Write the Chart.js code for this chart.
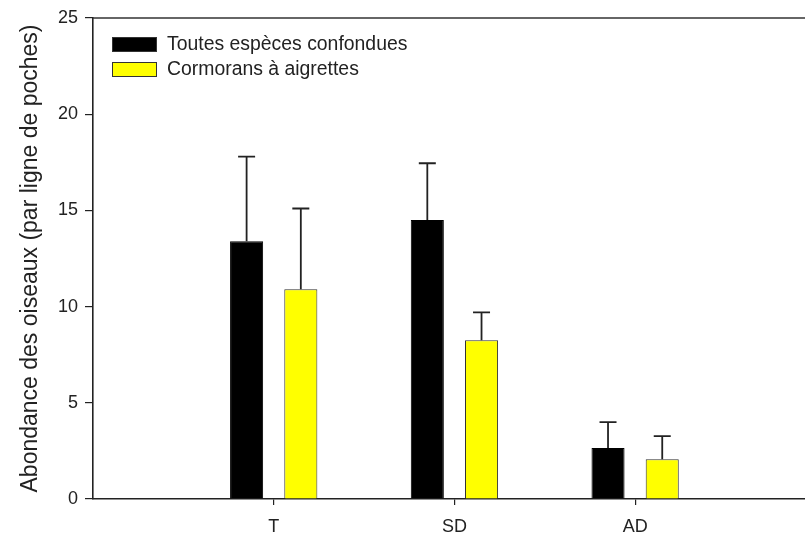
<!DOCTYPE html>
<html>
<head>
<meta charset="utf-8">
<script src="https://cdn.jsdelivr.net/npm/chart.js@4"></script>
<style>
  html, body { margin: 0; padding: 0; background: #fff; }
  #wrap { width: 805px; height: 535px; position: relative; }
</style>
</head>
<body>
<div id="wrap"><canvas id="chart"></canvas></div>
<script>
// Site categories and values
const categories = ['T', 'SD', 'AD'];
const allSpecies = [13.4, 14.5, 2.65];
const allSpeciesErr = [17.8, 17.45, 4.0];   // upper end of error bar
const cormorants = [10.9, 8.25, 2.07];
const cormorantsErr = [15.1, 9.7, 3.27];
const yTicks = [0, 5, 10, 15, 20, 25];

const INK = '#222';
const FONT = "'Liberation Sans', Arial, sans-serif";

// upper error whiskers with a centered cap
const errorBarPlugin = {
  id: 'errorBars',
  afterDatasetsDraw(chart) {
    const { ctx, scales: { y } } = chart;
    chart.data.datasets.forEach((ds, di) => {
      const meta = chart.getDatasetMeta(di);
      meta.data.forEach((bar, i) => {
        const top = y.getPixelForValue(ds.errTop[i]);
        ctx.save();
        ctx.strokeStyle = INK;
        ctx.lineWidth = 1.8;
        ctx.beginPath();
        ctx.moveTo(bar.x, bar.y);
        ctx.lineTo(bar.x, top);
        ctx.moveTo(bar.x - 8.5, top);
        ctx.lineTo(bar.x + 8.5, top);
        ctx.stroke();
        ctx.restore();
      });
    });
  }
};

// top frame line + legend inside the plot area
const framePlugin = {
  id: 'frame',
  afterDraw(chart) {
    const { ctx, chartArea: a } = chart;
    ctx.save();
    ctx.strokeStyle = '#333';
    ctx.lineWidth = 1.6;
    ctx.beginPath();
    ctx.moveTo(a.left, a.top);
    ctx.lineTo(805, a.top);
    ctx.stroke();

    ctx.font = '19.4px ' + FONT;
    ctx.textBaseline = 'middle';
    chart.data.datasets.forEach((ds, i) => {
      const yy = 37 + i * 25;
      ctx.fillStyle = ds.backgroundColor;
      ctx.fillRect(112, yy, 45, 15);
      ctx.strokeStyle = '#333';
      ctx.lineWidth = 1;
      ctx.strokeRect(112.5, yy + 0.5, 44, 14);
      ctx.fillStyle = INK;
      ctx.fillText(ds.label, 167, yy + 8);
    });
    ctx.restore();
  }
};

new Chart(document.getElementById('chart'), {
  type: 'bar',
  data: {
    datasets: [
      {
        label: 'Toutes espèces confondues',
        data: categories.map((c, i) => ({ x: i + 1, y: allSpecies[i] })),
        errTop: allSpeciesErr,
        backgroundColor: '#000000',
        borderColor: '#000000',
        borderWidth: 1,
        categoryPercentage: 0.6,
        barPercentage: 0.61,
      },
      {
        label: 'Cormorans à aigrettes',
        data: categories.map((c, i) => ({ x: i + 1, y: cormorants[i] })),
        errTop: cormorantsErr,
        backgroundColor: '#ffff00',
        borderColor: '#333',
        borderWidth: 1,
        categoryPercentage: 0.6,
        barPercentage: 0.61,
      }
    ]
  },
  plugins: [errorBarPlugin, framePlugin],
  options: {
    responsive: true, maintainAspectRatio: false, animation: false,
    layout: { padding: { top: 18, right: 0, left: 0, bottom: 0 } },
    plugins: { legend: { display: false }, tooltip: { enabled: false } },
    scales: {
      x: {
        type: 'linear', min: 0, max: 3.94, offset: false,
        afterBuildTicks: s => { s.ticks = categories.map((c, i) => ({ value: i + 1 })); },
        afterFit: s => { s.height = 36; },
        grid: { offset: false, drawOnChartArea: false, tickLength: 6, tickColor: INK, lineWidth: 1.2 },
        border: { color: INK, width: 1.6 },
        ticks: {
          color: INK, font: { family: FONT, size: 18 }, padding: 11,
          callback: v => categories[v - 1] ?? ''
        }
      },
      y: {
        min: 0, max: 25,
        afterBuildTicks: s => { s.ticks = yTicks.map(v => ({ value: v })); },
        afterFit: s => { s.width = 93; },
        grid: { drawOnChartArea: false, tickLength: 8, tickColor: INK, lineWidth: 1.2 },
        border: { color: INK, width: 1.6 },
        ticks: { color: INK, font: { family: FONT, size: 18 }, padding: 7 },
        title: {
          display: true, text: 'Abondance des oiseaux (par ligne de poches)',
          color: INK, font: { family: FONT, size: 23 }, padding: { top: 17, bottom: 0 }
        }
      }
    }
  }
});
</script>
</body>
</html>
